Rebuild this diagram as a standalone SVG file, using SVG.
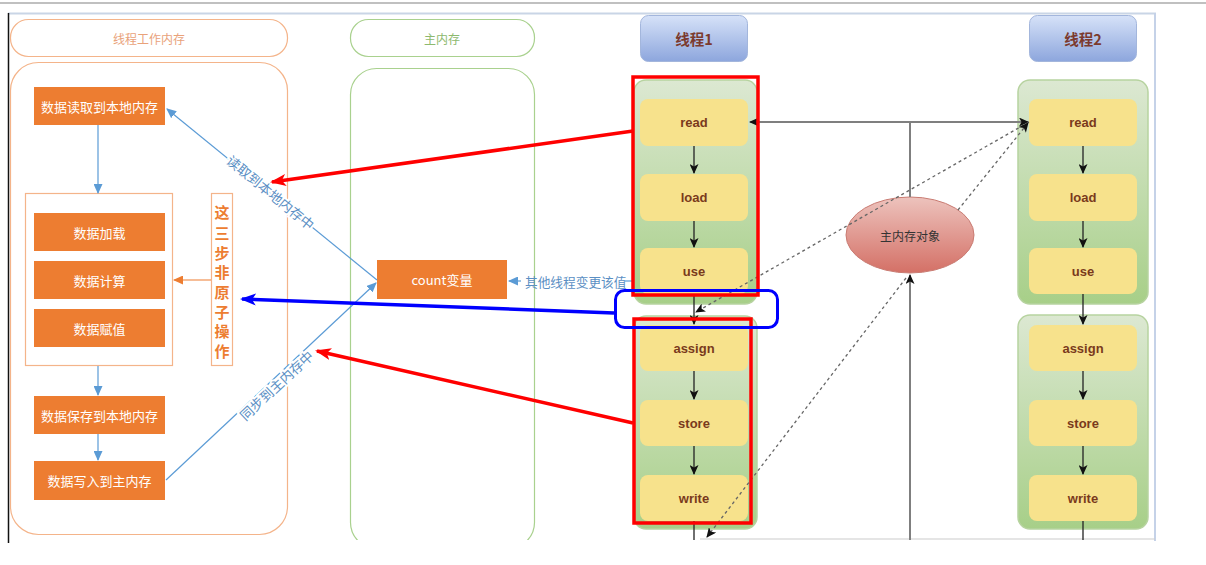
<svg xmlns="http://www.w3.org/2000/svg" width="1206" height="565" viewBox="0 0 1206 565">
<defs>
<style>
.cjk{font-family:"Noto Sans CJK SC","Liberation Sans",sans-serif;}
.orangeBox{fill:#ED7D31;}
.wtxt{fill:#FFFFFF;font-size:13px;text-anchor:middle;dominant-baseline:central;}
.yel{fill:#F7E28C;}
.ytxt{font-family:"Liberation Sans",Arial,sans-serif;font-weight:bold;font-size:13px;fill:#7A3A1C;text-anchor:middle;dominant-baseline:central;}
.grp{fill:url(#gGreen);stroke:#B7D3A0;stroke-width:1.5;}
.hdr{fill:url(#gBlue);stroke:#A3B6DC;stroke-width:1;}
.htxt{font-family:"Noto Sans CJK SC","Liberation Sans",sans-serif;font-weight:bold;font-size:14.5px;fill:#7B3A2E;text-anchor:middle;dominant-baseline:central;}
.blk{stroke:#222;stroke-width:1.3;fill:none;marker-end:url(#mBlack);}
.bl{stroke:#5B9BD5;stroke-width:1.2;fill:none;marker-end:url(#mBlue);}
.gray{stroke:#7F7F7F;stroke-width:2;fill:none;}
.dash{stroke:#666;stroke-width:1.3;stroke-dasharray:3 3;fill:none;marker-end:url(#mBlack);}
.redbox{fill:none;stroke:#FF0000;stroke-width:3.5;}
.redarr{stroke:#FF0000;stroke-width:3.5;fill:none;marker-end:url(#mRed);}
.lbl{fill:#5B8FC4;font-size:13.5px;text-anchor:middle;dominant-baseline:central;stroke:#FFFFFF;stroke-width:4;paint-order:stroke;}
</style>
<linearGradient id="gGreen" x1="0" y1="0" x2="0" y2="1">
<stop offset="0" stop-color="#DCE8D2"/>
<stop offset="1" stop-color="#A7CF88"/>
</linearGradient>
<linearGradient id="gBlue" x1="0" y1="0" x2="0" y2="1">
<stop offset="0" stop-color="#D6E2F8"/>
<stop offset="1" stop-color="#8DA6DD"/>
</linearGradient>
<linearGradient id="gRed" x1="0" y1="0" x2="0" y2="1">
<stop offset="0" stop-color="#EDC3BD"/>
<stop offset="1" stop-color="#D47066"/>
</linearGradient>
<marker id="mBlack" markerUnits="userSpaceOnUse" markerWidth="10" markerHeight="9" refX="9" refY="4.5" orient="auto">
<path d="M0,0 L10,4.5 L0,9 L2.5,4.5 z" fill="#111"/>
</marker>
<marker id="mBlue" markerUnits="userSpaceOnUse" markerWidth="10" markerHeight="9" refX="9" refY="4.5" orient="auto">
<path d="M0,0 L10,4.5 L0,9 z" fill="#5B9BD5"/>
</marker>
<marker id="mOrange" markerUnits="userSpaceOnUse" markerWidth="10" markerHeight="9" refX="9" refY="4.5" orient="auto">
<path d="M0,0 L10,4.5 L0,9 z" fill="#ED7D31"/>
</marker>
<marker id="mRed" markerUnits="userSpaceOnUse" markerWidth="16" markerHeight="12" refX="14" refY="6" orient="auto">
<path d="M0,0 L16,6 L0,12 L4,6 z" fill="#FF0000"/>
</marker>
<marker id="mPure" markerUnits="userSpaceOnUse" markerWidth="16" markerHeight="12" refX="14" refY="6" orient="auto">
<path d="M0,0 L16,6 L0,12 L4,6 z" fill="#0000FF"/>
</marker>
<clipPath id="clipImg"><rect x="8" y="13" width="1148" height="527"/></clipPath>
</defs>
<rect x="0" y="0" width="1206" height="565" fill="#FFFFFF"/>
<!-- screenshot frame -->
<g id="frame">
<line x1="0" y1="3" x2="1206" y2="3" stroke="#ABABAB" stroke-width="1.5"/>
<line x1="8" y1="13.5" x2="1156" y2="13.5" stroke="#C9D5E6" stroke-width="2"/>
<line x1="8.5" y1="13" x2="8.5" y2="543" stroke="#111" stroke-width="1.5"/>
<line x1="1155" y1="13" x2="1155" y2="541" stroke="#C5D2E8" stroke-width="2"/>
<line x1="700" y1="539" x2="1155" y2="539" stroke="#CCCCCC" stroke-width="1.2"/>
</g>
<!-- left column: thread working memory -->
<g id="workmem-header">
<rect x="10.5" y="19.5" width="277" height="37" rx="18" fill="#FFFFFF" stroke="#F4B48A" stroke-width="1.2"/>
<text x="149" y="38" class="cjk" font-size="12" fill="#E9A27A" text-anchor="middle" dominant-baseline="central">线程工作内存</text>
</g>
<g id="workmem-body">
<rect x="10.5" y="62.5" width="277" height="472" rx="28" fill="#FFFFFF" stroke="#F4B48A" stroke-width="1.2"/>
</g>
<!-- main memory column -->
<g id="mainmem-header">
<rect x="350.5" y="19.5" width="184" height="37" rx="18" fill="#FFFFFF" stroke="#A9D18E" stroke-width="1.2"/>
<text x="442" y="38" class="cjk" font-size="12" fill="#8DB96E" text-anchor="middle" dominant-baseline="central">主内存</text>
</g>
<g id="mainmem-body" clip-path="url(#clipImg)">
<rect x="350.5" y="68.5" width="184" height="480" rx="26" fill="#FFFFFF" stroke="#A9D18E" stroke-width="1.2"/>
</g>
<!-- left nodes -->
<g id="n-read-local">
<rect x="34" y="87" width="131" height="38" class="orangeBox"/>
<text x="99.5" y="106" class="cjk wtxt">数据读取到本地内存</text>
</g>
<g id="n-group3">
<rect x="25.5" y="193.5" width="147" height="172" fill="#FFFFFF" stroke="#F4B48A" stroke-width="1.2"/>
</g>
<g id="n-load">
<rect x="34" y="213" width="131" height="38" class="orangeBox"/>
<text x="99.5" y="232" class="cjk wtxt">数据加载</text>
</g>
<g id="n-calc">
<rect x="34" y="261" width="131" height="38" class="orangeBox"/>
<text x="99.5" y="280" class="cjk wtxt">数据计算</text>
</g>
<g id="n-assign">
<rect x="34" y="309" width="131" height="38" class="orangeBox"/>
<text x="99.5" y="328" class="cjk wtxt">数据赋值</text>
</g>
<g id="n-nonatomic">
<rect x="211.5" y="193.5" width="21" height="172" fill="#FFFFFF" stroke="#F4B48A" stroke-width="1.2"/>
<g class="cjk" font-size="15" font-weight="bold" fill="#ED7D31" text-anchor="middle" dominant-baseline="central">
<text x="222" y="211">这</text>
<text x="222" y="232">三</text>
<text x="222" y="252">步</text>
<text x="222" y="271">非</text>
<text x="222" y="291">原</text>
<text x="222" y="311">子</text>
<text x="222" y="330">操</text>
<text x="222" y="350">作</text>
</g>
</g>
<g id="n-save-local">
<rect x="34" y="396" width="131" height="38" class="orangeBox"/>
<text x="99.5" y="415" class="cjk wtxt">数据保存到本地内存</text>
</g>
<g id="n-write-main">
<rect x="34" y="461" width="131" height="39" class="orangeBox"/>
<text x="99.5" y="480.5" class="cjk wtxt">数据写入到主内存</text>
</g>
<g id="n-count">
<rect x="377" y="260" width="130" height="39" class="orangeBox"/>
<text x="442" y="279.5" class="cjk wtxt">count变量</text>
</g>
<!-- thread 1 -->
<g id="t1-header">
<rect x="640.5" y="15.5" width="107" height="46" rx="8" class="hdr"/>
<text x="694" y="38.5" class="htxt">线程1</text>
</g>
<g id="t1-group1">
<rect x="634" y="80" width="123" height="224" rx="12" class="grp"/>
</g>
<g id="t1-group2">
<rect x="634" y="316" width="123" height="213" rx="12" class="grp"/>
</g>
<g id="t1-read"><rect x="640" y="99" width="108" height="47" rx="8" class="yel"/><text x="694" y="122.5" class="ytxt">read</text></g>
<g id="t1-load"><rect x="640" y="174" width="108" height="47" rx="8" class="yel"/><text x="694" y="197.5" class="ytxt">load</text></g>
<g id="t1-use"><rect x="640" y="248" width="108" height="46" rx="8" class="yel"/><text x="694" y="271" class="ytxt">use</text></g>
<g id="t1-assign"><rect x="640" y="325" width="108" height="46" rx="8" class="yel"/><text x="694" y="348" class="ytxt">assign</text></g>
<g id="t1-store"><rect x="640" y="400" width="108" height="46" rx="8" class="yel"/><text x="694" y="423" class="ytxt">store</text></g>
<g id="t1-write"><rect x="640" y="475" width="108" height="46" rx="8" class="yel"/><text x="694" y="498" class="ytxt">write</text></g>
<!-- thread 2 -->
<g id="t2-header">
<rect x="1029.5" y="15.5" width="107" height="46" rx="8" class="hdr"/>
<text x="1083" y="38.5" class="htxt">线程2</text>
</g>
<g id="t2-group1">
<rect x="1018" y="80" width="130" height="224" rx="12" class="grp"/>
</g>
<g id="t2-group2">
<rect x="1018" y="315" width="130" height="214" rx="12" class="grp"/>
</g>
<g id="t2-read"><rect x="1029" y="99" width="108" height="47" rx="8" class="yel"/><text x="1083" y="122.5" class="ytxt">read</text></g>
<g id="t2-load"><rect x="1029" y="174" width="108" height="47" rx="8" class="yel"/><text x="1083" y="197.5" class="ytxt">load</text></g>
<g id="t2-use"><rect x="1029" y="248" width="108" height="46" rx="8" class="yel"/><text x="1083" y="271" class="ytxt">use</text></g>
<g id="t2-assign"><rect x="1029" y="325" width="108" height="46" rx="8" class="yel"/><text x="1083" y="348" class="ytxt">assign</text></g>
<g id="t2-store"><rect x="1029" y="400" width="108" height="46" rx="8" class="yel"/><text x="1083" y="423" class="ytxt">store</text></g>
<g id="t2-write"><rect x="1029" y="475" width="108" height="46" rx="8" class="yel"/><text x="1083" y="498" class="ytxt">write</text></g>
<!-- main memory object -->
<g id="n-mainobj">
<ellipse cx="910" cy="235" rx="64" ry="38" fill="url(#gRed)" stroke="#C97B72" stroke-width="1"/>
<text x="910" y="235" class="cjk" font-size="12" fill="#333" text-anchor="middle" dominant-baseline="central">主内存对象</text>
</g>
<!-- connectors -->
<g id="connectors">
<line x1="98" y1="125" x2="98" y2="193" class="bl"/>
<line x1="98" y1="366" x2="98" y2="395" class="bl"/>
<line x1="98" y1="434" x2="98" y2="460" class="bl"/>
<line x1="211" y1="280" x2="174" y2="280" stroke="#ED7D31" stroke-width="1.2" marker-end="url(#mOrange)"/>
<line x1="377" y1="280" x2="167" y2="109" class="bl"/>
<line x1="166" y1="480" x2="376" y2="283" class="bl"/>
<text class="cjk lbl" transform="translate(271,192) rotate(39.2)">读取到本地内存中</text>
<text class="cjk lbl" transform="translate(276,385) rotate(-42.9)">同步到主内存中</text>
<line x1="521" y1="281" x2="509" y2="281" class="bl"/>
<text x="525" y="281" class="cjk" font-size="12.7" fill="#5B8FC4" dominant-baseline="central">其他线程变更该值</text>
<line x1="625" y1="281" x2="632" y2="281" stroke="#5B9BD5" stroke-width="1.2"/>
<line x1="694" y1="146" x2="694" y2="173" class="blk"/>
<line x1="694" y1="221" x2="694" y2="247" class="blk"/>
<line x1="694" y1="294" x2="694" y2="324" class="blk"/>
<line x1="694" y1="371" x2="694" y2="399" class="blk"/>
<line x1="694" y1="446" x2="694" y2="474" class="blk"/>
<line x1="694" y1="521" x2="694" y2="540" stroke="#222" stroke-width="1.3"/>
<line x1="1083" y1="146" x2="1083" y2="173" class="blk"/>
<line x1="1083" y1="221" x2="1083" y2="247" class="blk"/>
<line x1="1083" y1="294" x2="1083" y2="324" class="blk"/>
<line x1="1083" y1="371" x2="1083" y2="399" class="blk"/>
<line x1="1083" y1="446" x2="1083" y2="474" class="blk"/>
<line x1="1083" y1="521" x2="1083" y2="540" stroke="#222" stroke-width="1.3"/>
<line x1="910" y1="197" x2="910" y2="122" class="gray"/>
<line x1="910" y1="122" x2="750" y2="122" class="gray" marker-end="url(#mBlack)"/>
<line x1="910" y1="122" x2="1028" y2="122" class="gray" marker-end="url(#mBlack)"/>
<line x1="910" y1="540" x2="910" y2="275" class="gray" marker-end="url(#mBlack)"/>
<line x1="1029" y1="122" x2="696" y2="312" class="dash"/>
<line x1="958" y1="210" x2="1028" y2="123" class="dash"/>
<line x1="906" y1="278" x2="707" y2="537" class="dash"/>
<rect x="633" y="77" width="125" height="218" class="redbox"/>
<rect x="634" y="319" width="117" height="204" class="redbox"/>
<rect x="615.5" y="290.5" width="162" height="37" rx="9" fill="none" stroke="#0000FF" stroke-width="3"/>
<line x1="633" y1="131" x2="272" y2="182" class="redarr"/>
<line x1="633" y1="423" x2="317" y2="351" class="redarr"/>
<line x1="614" y1="313" x2="242" y2="299" stroke="#0000FF" stroke-width="3.5" marker-end="url(#mPure)"/>
</g>
</svg>
